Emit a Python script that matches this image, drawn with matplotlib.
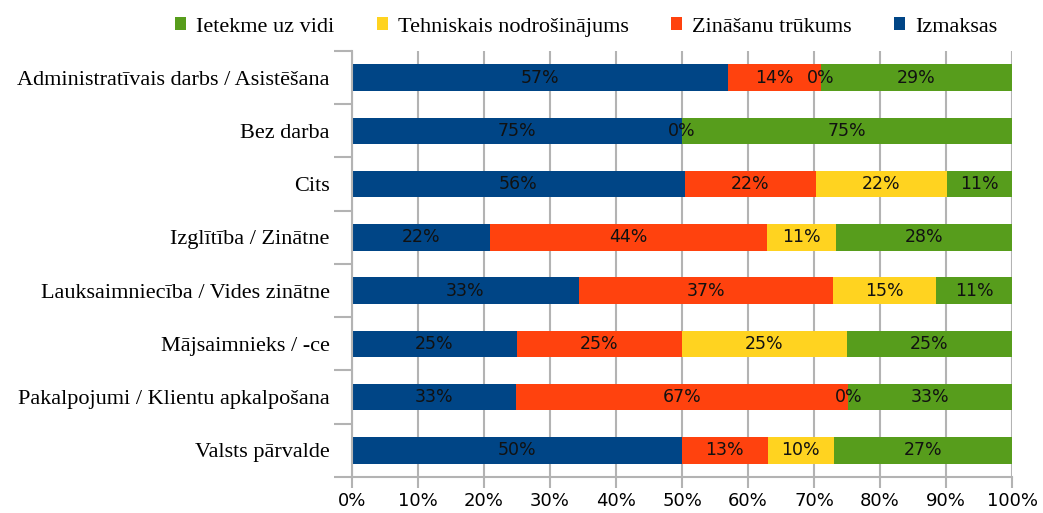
import matplotlib.pyplot as plt
import numpy as np

# Answer shares per occupation (percent of respondents), plotted as 100% stacked bars
categories = [
    'Administratīvais darbs / Asistēšana',
    'Bez darba',
    'Cits',
    'Izglītība / Zinātne',
    'Lauksaimniecība / Vides zinātne',
    'Mājsaimnieks / -ce',
    'Pakalpojumi / Klientu apkalpošana',
    'Valsts pārvalde',
]
izmaksas = [57, 75, 56, 22, 33, 25, 33, 50]
zinasanu_trukums = [14, 0, 22, 44, 37, 25, 67, 13]
tehniskais = [0, np.nan, 22, 11, 15, 25, 0, 10]
ietekme = [29, 75, 11, 28, 11, 25, 33, 27]

series = [
    ('Izmaksas', izmaksas, '#004586'),
    ('Zināšanu trūkums', zinasanu_trukums, '#ff420e'),
    ('Tehniskais nodrošinājums', tehniskais, '#ffd320'),
    ('Ietekme uz vidi', ietekme, '#579d1c'),
]

SERIF = ['Liberation Serif', 'DejaVu Serif']
SANS = ['DejaVu Sans']
GRID = '#b3b3b3'

fig = plt.figure(figsize=(10.43, 5.13), dpi=100)
ax = fig.add_axes([0.3375, 0.0702, 0.6328, 0.8304])

raw = np.array([np.nan_to_num(np.array(v, dtype=float)) for _, v, _ in series])
totals = raw.sum(axis=0)
y = np.arange(len(categories))
left = np.zeros(len(categories))

for (name, vals, color), row in zip(series, raw):
    width = row / totals * 100
    bars = ax.barh(y, width, left=left, height=0.5, color=color, label=name,
                   edgecolor='none', zorder=2)
    labels = ['' if np.isnan(v) else f'{v:.0f}%' for v in np.array(vals, dtype=float)]
    ax.bar_label(bars, labels=labels, label_type='center', fontsize=12.5,
                 family=SANS, color='#111111')
    left += width

ax.set_xlim(0, 100)
ax.set_ylim(len(categories) - 0.5, -0.5)
ax.set_xticks(np.arange(0, 101, 10))
ax.set_xticklabels([f'{t}%' for t in range(0, 101, 10)], family=SANS, fontsize=13)
ax.set_yticks(y)
ax.set_yticklabels(categories, family=SERIF, fontsize=16)
ax.set_yticks(np.arange(-0.5, len(categories)), minor=True)
ax.tick_params(axis='y', which='major', length=0, pad=16)
ax.tick_params(axis='y', which='minor', length=13, color=GRID, width=1.5)
ax.tick_params(axis='x', length=8, color=GRID, width=1.5, pad=3)

ax.grid(axis='x', color=GRID, linewidth=1.5, zorder=0)
ax.set_axisbelow(True)
for side in ('top', 'right'):
    ax.spines[side].set_visible(False)
for side in ('left', 'bottom'):
    ax.spines[side].set_color(GRID)
    ax.spines[side].set_linewidth(1.5)

handles, names = ax.get_legend_handles_labels()
fig.legend(handles[::-1], names[::-1], loc='upper center',
           bbox_to_anchor=(586 / 1043, 1.005), ncol=4, frameon=False,
           prop={'family': SERIF, 'size': 16}, handlelength=0.5, handleheight=0.5,
           handletextpad=0.45, columnspacing=1.9)

fig.savefig('out.png', dpi=100)
